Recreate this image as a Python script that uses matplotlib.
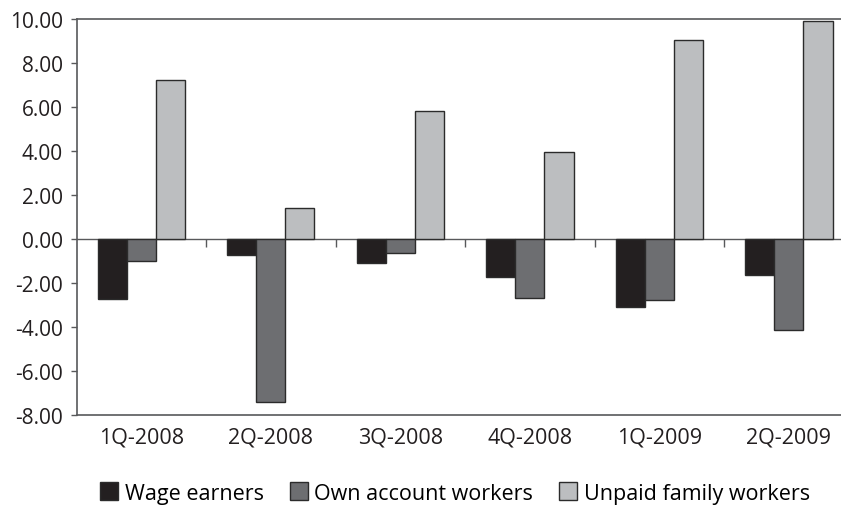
import matplotlib
matplotlib.use("Agg")
import matplotlib.pyplot as plt
import numpy as np

categories = ["1Q-2008", "2Q-2008", "3Q-2008", "4Q-2008", "1Q-2009", "2Q-2009"]
wage_earners = [-2.73, -0.71, -1.09, -1.74, -3.10, -1.62]
own_account = [-1.00, -7.42, -0.62, -2.70, -2.79, -4.14]
unpaid_family = [7.25, 1.41, 5.82, 3.94, 9.03, 9.92]
series_names = ["Wage earners", "Own account workers", "Unpaid family workers"]
yticks = [-8, -6, -4, -2, 0, 2, 4, 6, 8, 10]

plt.rcParams['font.family'] = ['Open Sans', 'DejaVu Sans']
frame_col = "#58595b"

fig = plt.figure(figsize=(8.41, 5.06), dpi=100)
ax = fig.add_axes([76.5/841, 90/506, (853.6-76.5)/841, (416-20)/506])

x = np.arange(len(categories))
w = 0.225
colors = ["#231f20", "#6d6e71", "#bcbec0"]
for i, (vals, name, c) in enumerate(zip([wage_earners, own_account, unpaid_family], series_names, colors)):
    ax.bar(x + (i - 1) * w, vals, width=w, color=c, edgecolor="#2b2b2b", linewidth=1.0,
           label=name, zorder=2)

ax.set_xlim(-0.5, len(categories) - 0.5)
ax.set_ylim(-8, 10)
ax.set_yticks(yticks)
ax.set_yticklabels([f"{v:.2f}" for v in yticks])
ax.set_xticks(x)
ax.set_xticklabels(categories)
ax.tick_params(axis='x', length=0, pad=8, labelsize=15.5, colors="#231f20")
ax.tick_params(axis='y', length=4, width=1, direction='out', pad=6, labelsize=15,
               colors=frame_col, labelcolor="#231f20")

for s in ['left', 'top', 'bottom']:
    ax.spines[s].set_color(frame_col)
    ax.spines[s].set_linewidth(1.2)
ax.spines['right'].set_visible(False)

# zero axis with category tick marks
sec = ax.secondary_xaxis(0, transform=ax.transData)
sec.spines['bottom'].set_color(frame_col)
sec.spines['bottom'].set_linewidth(1.0)
sec.set_xticks(np.arange(len(categories)) + 0.5)
sec.set_xticks(x, minor=True)
sec.tick_params(axis='x', which='major', length=6, width=1, direction='out', colors=frame_col, labelbottom=False)
sec.tick_params(axis='x', which='minor', length=4, width=1.5, direction='out', colors="#444444", labelbottom=False)

handles, labels = ax.get_legend_handles_labels()
fig.legend(handles, labels, loc='center', bbox_to_anchor=(455/841, 1 - 494/506), ncol=3,
           frameon=False, fontsize=15.5, handlelength=0.85, handleheight=0.85,
           handletextpad=0.3, columnspacing=1.2, borderaxespad=0)

fig.savefig("out.png", dpi=100)
